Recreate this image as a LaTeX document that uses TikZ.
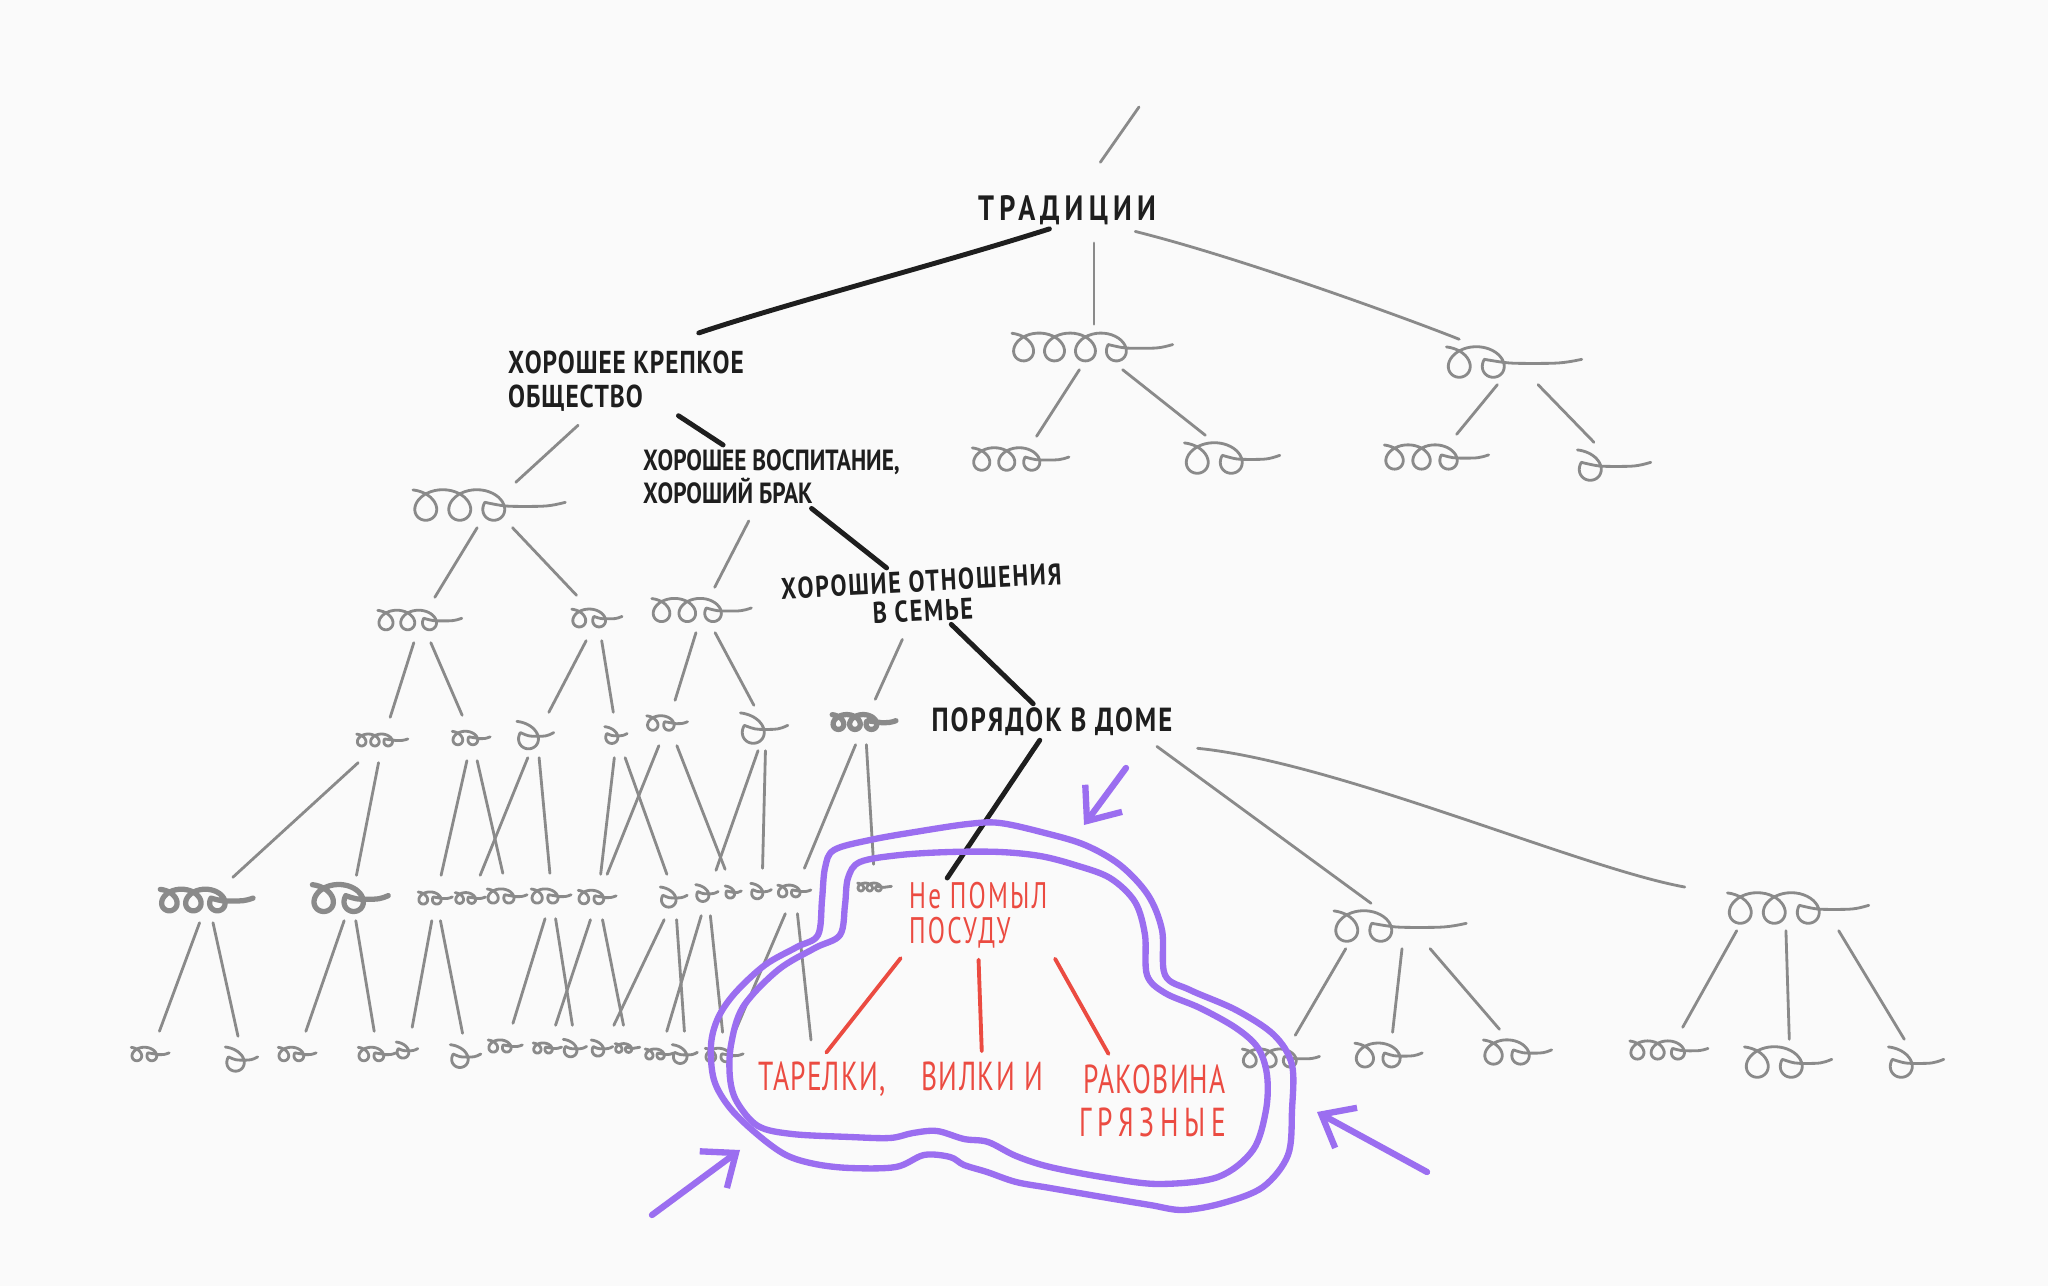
\documentclass[tikz,border=0pt]{standalone}
\usepackage{fontspec}
\setmainfont{PT Sans}[FakeStretch=0.8]
\usetikzlibrary{arrows.meta}
\lineskiplimit=-10pt

\definecolor{paper}{RGB}{250,250,250}
\definecolor{twiggray}{RGB}{138,138,138}
\definecolor{inkblack}{RGB}{30,30,30}
\definecolor{inkred}{RGB}{235,75,65}
\definecolor{inkpurple}{RGB}{155,110,240}

% a loopy scribble standing for a node: \squig[style]{name}{x}{y}{loops}{width}
\newcommand\squig[6][]{%
  \pgfmathsetmacro\sqa{min(0.75*#6/#5,34)}%
  \pgfmathsetmacro\sqx{#3-#6/2+0.39*\sqa}%
  \pgfmathsetmacro\sqe{(#5-1)*360+100}%
  \pgfmathtruncatemacro\sqs{#5*30+10}%
  \pgfmathsetmacro\sqh{max(0.5*(#6-\sqa*(#5-0.75)),2)}%
  \pgfmathsetmacro\sqv{0.12*\sqa}%
  \pgfmathsetmacro\sqw{#6*0.2845}%
  \node[sqbox, minimum width=\sqw pt] (#2) at (#3,#4) {};
  \draw[twig,#1] plot[smooth, domain=-170:\sqe, samples=\sqs, variable=\t]
    ({\sqx+\sqa*(\t/360)-0.55*\sqa*sin(\t)}, {#4+0.45*\sqa*cos(\t)})
    .. controls +(0.5*\sqh,\sqv) and +(-0.5*\sqh,0) .. ++(\sqh,\sqv)
    .. controls +(0.5*\sqh,0) and +(-0.4*\sqh,\sqv) .. ++(\sqh,-\sqv);
}

\tikzset{
  twig/.style={twiggray, line width=0.8pt, line cap=round, line join=round},
  fat/.style={line width=1.5pt},
  ink/.style={inkblack, line width=1.4pt, line cap=round, line join=round},
  redink/.style={inkred, line width=1.1pt, line cap=round},
  ring/.style={inkpurple, line width=1.8pt, line cap=round, line join=round},
  pointer/.style={ring, -{Straight Barb[length=8pt, width=13pt]}},
  sqbox/.style={inner sep=0pt, minimum height=0.44cm},
  lbl/.style={text=inkblack, inner sep=1pt},
  redlbl/.style={text=inkred, inner sep=1pt},
}

\begin{document}
\begin{tikzpicture}[x=0.01cm, y=-0.01cm]
\fill[paper] (0,0) rectangle (2048,1286);
\useasboundingbox (0,0) rectangle (2048,1286);

% labels
\node[lbl, font=\fontsize{10}{11}\selectfont\bfseries\addfontfeature{LetterSpace=15}] (trad) at (1067,210) {ТРАДИЦИИ};
\node[lbl, align=left, anchor=north west, font=\fontsize{9}{9.6}\selectfont\bfseries\addfontfeature{LetterSpace=3}] (obsh) at (504,347) {ХОРОШЕЕ КРЕПКОЕ\\ОБЩЕСТВО};
\node[lbl, align=left, anchor=north west, font=\fontsize{8.3}{9.6}\selectfont\bfseries] (vosp) at (639,445) {ХОРОШЕЕ ВОСПИТАНИЕ,\\ХОРОШИЙ БРАК};
\node[lbl, align=center, rotate=3, font=\fontsize{8.5}{8.4}\selectfont\bfseries\addfontfeature{LetterSpace=6}] (otn) at (922,596) {ХОРОШИЕ ОТНОШЕНИЯ\\В СЕМЬЕ};
\node[lbl, font=\fontsize{9.5}{10}\selectfont\bfseries\addfontfeature{LetterSpace=6}] (dom) at (1052,722) {ПОРЯДОК В ДОМЕ};
\node[redlbl, align=left, anchor=north west, font=\fontsize{10.5}{10}\selectfont\addfontfeature{FakeStretch=0.68,LetterSpace=6}] (dishes) at (905,878) {Не ПОМЫЛ\\ПОСУДУ};
\node[redlbl, anchor=base, font=\fontsize{11.5}{12}\selectfont\addfontfeature{FakeStretch=0.68,LetterSpace=3}] (plates) at (822,1091) {ТАРЕЛКИ,};
\node[redlbl, anchor=base, font=\fontsize{11.5}{12}\selectfont\addfontfeature{FakeStretch=0.68,LetterSpace=4}] (forks) at (982,1091) {ВИЛКИ И};
\node[redlbl, align=right, anchor=north east, font=\fontsize{11.5}{12.4}\selectfont\addfontfeature{FakeStretch=0.68,LetterSpace=3}] (sink) at (1230,1060) {РАКОВИНА\\{\addfontfeature{LetterSpace=14}ГРЯЗНЫЕ}};

% scribbles, level by level
\squig{q1b}{1094}{347}{4}{165}
\squig{q1c}{1516}{362}{2}{140}
\squig{q2b}{1022}{459}{3}{100}
\squig{q2c}{1234}{458}{2}{100}
\squig{q2d}{1438}{457}{3}{108}
\squig{q2e}{1616}{465}{1}{78}
\squig{q2a}{491}{505}{3}{157}
\squig{q3a}{421}{620}{3}{87}
\squig{q3b}{598}{618}{2}{53}
\squig{q3c}{703}{610}{3}{103}
\squig{q4a}{383}{740}{3}{53}
\squig{q4b}{472}{738}{2}{40}
\squig{q4c}{537}{735}{1}{41}
\squig{q4d}{617}{735}{1}{25}
\squig{q4e}{668}{723}{2}{43}
\squig{q4f}{766}{728}{1}{52}
\squig[fat]{q4g}{865}{722}{3}{66}
\squig[fat]{q5a}{208}{900}{3}{96}
\squig[fat]{q5b}{352}{898}{2}{80}
\squig{q5c}{436}{898}{2}{36}
\squig{q5d}{471}{898}{2}{32}
\squig{q5e}{508}{896}{2}{42}
\squig{q5f}{552}{896}{2}{42}
\squig{q5g}{598}{897}{2}{40}
\squig{q5h}{675}{897}{1}{30}
\squig{q5i}{708}{893}{1}{25}
\squig{q5j}{734}{892}{1}{18}
\squig{q5k}{762}{891}{1}{23}
\squig{q5l}{795}{891}{2}{35}
\squig{q5m}{875}{887}{3}{35}
\squig{q6a}{151}{1054}{2}{40}
\squig{q6b}{243}{1059}{1}{36}
\squig{q6c}{298}{1054}{2}{40}
\squig{q6d}{378}{1054}{2}{40}
\squig{q6e}{408}{1050}{1}{24}
\squig{q6f}{467}{1056}{1}{34}
\squig{q6g}{506}{1046}{2}{36}
\squig{q6h}{548}{1048}{2}{30}
\squig{q6i}{576}{1048}{1}{26}
\squig{q6j}{603}{1048}{1}{24}
\squig{q6k}{628}{1048}{2}{26}
\squig{q6l}{660}{1054}{2}{30}
\squig{q6m}{686}{1054}{1}{28}
\squig{q6n}{725}{1055}{2}{40}
\coordinate (loose) at (811,1040);
\squig{r1}{1402}{926}{2}{137}
\squig{r2}{1800}{908}{3}{146}
\squig{r1a}{1282}{1058}{3}{80}
\squig{r1b}{1390}{1055}{2}{71}
\squig{r1c}{1519}{1052}{2}{72}
\squig{r2a}{1670}{1050}{3}{81}
\squig{r2b}{1790}{1062}{2}{92}
\squig{r2c}{1918}{1062}{1}{60}

% grey branches
\coordinate (stub) at (1139,107);
\draw[twig, shorten <=10pt] (trad) -- (stub);
\draw[twig, shorten <=4pt] (q1b |- trad.south) -- (q1b);
\draw[twig, shorten <=3pt] ([xshift=-10pt]trad.south east) .. controls +(120,30) and +(-100,-40) .. (q1c);
\draw[twig] (q1b) -- (q2b) (q1b) -- (q2c);
\draw[twig] (q1c) -- (q2d) (q1c) -- (q2e);
\draw[twig, shorten <=4pt] (obsh) -- (q2a);
\draw[twig, shorten <=4pt] (vosp) -- (q3c);
\draw[twig, shorten <=4pt] (otn) -- (q4g);
\draw[twig] (q2a) -- (q3a) (q2a) -- (q3b);
\draw[twig] (q3a) -- (q4a) (q3a) -- (q4b);
\draw[twig] (q3b) -- (q4c) (q3b) -- (q4d);
\draw[twig] (q3c) -- (q4e) (q3c) -- (q4f);
\draw[twig] (q4a) -- (q5a) (q4a) -- (q5b);
\draw[twig] (q4b) -- (q5c) (q4b) -- (q5e);
\draw[twig] (q4c) -- (q5d) (q4c) -- (q5f);
\draw[twig] (q4d) -- (q5g) (q4d) -- (q5h);
\draw[twig] (q4e) -- (q5g) (q4e) -- (q5j);
\draw[twig] (q4f) -- (q5i) (q4f) -- (q5k);
\draw[twig] (q4g) -- (q5l) (q4g) -- (q5m);
\draw[twig] (q5a) -- (q6a) (q5a) -- (q6b);
\draw[twig] (q5b) -- (q6c) (q5b) -- (q6d);
\draw[twig] (q5c) -- (q6e) (q5c) -- (q6f);
\draw[twig] (q5f) -- (q6g) (q5f) -- (q6i);
\draw[twig] (q5g) -- (q6h) (q5g) -- (q6k);
\draw[twig] (q5h) -- (q6j) (q5h) -- (q6m);
\draw[twig] (q5i) -- (q6l) (q5i) -- (q6n);
\draw[twig] (q5l) -- (q6n) (q5l) -- (loose);
\draw[twig, shorten <=3pt] ([xshift=-8pt]dom.south east) -- (r1);
\draw[twig, shorten <=3pt, shorten >=12pt] ([xshift=3pt,yshift=-2pt]dom.south east) .. controls +(150,15) and +(-220,-40) .. (r2);
\draw[twig] ([xshift=-16pt]r1.south) -- (r1a) (r1.south) -- (r1b) ([xshift=8pt]r1.south) -- (r1c);
\draw[twig] ([xshift=-18pt]r2.south) -- (r2a) ([xshift=-4pt]r2.south) -- (r2b) ([xshift=11pt]r2.south) -- (r2c);

% black path of reasons
\draw[ink] ([xshift=-5pt]trad.south) .. controls +(-110,35) and +(90,-30) .. ([xshift=-14pt,yshift=4pt]obsh.north east);
\draw[ink] (obsh) -- (vosp);
\draw[ink] (vosp) -- (otn);
\draw[ink] (otn) -- (dom);
\draw[ink] (dom) -- ([xshift=12pt]dishes.north west);

% red details
\draw[redink, shorten <=2pt, shorten >=2pt] (dishes.south west) -- (plates.north);
\draw[redink, shorten <=2pt, shorten >=2pt] (dishes.south) -- (forks.north);
\draw[redink, shorten <=2pt, shorten >=2pt] (dishes.south east) -- (sink.135);

% purple double loop and arrows
\draw[ring] plot[smooth cycle, tension=0.55] coordinates {(834,850) (870,840) (915,832) (968,824) (1000,823) (1045,833) (1085,845) (1120,865) (1148,895) (1162,930) (1165,975) (1190,990) (1236,1010) (1274,1035) (1292,1065) (1292,1110) (1288,1155) (1263,1187) (1223,1203) (1183,1210) (1150,1205) (1108,1198) (1050,1188) (1016,1182) (987,1172) (964,1165) (950,1157) (924,1155) (896,1167) (850,1168) (815,1164) (786,1155) (758,1135) (730,1108) (714,1080) (711,1045) (718,1018) (735,993) (765,965) (797,947) (818,935) (822,900) (825,868)};
\draw[ring] plot[smooth cycle, tension=0.55] coordinates {(860,862) (900,855) (950,852) (1000,852) (1040,856) (1075,865) (1110,878) (1135,902) (1145,935) (1147,975) (1165,993) (1200,1008) (1236,1028) (1258,1048) (1267,1075) (1266,1110) (1253,1150) (1218,1177) (1160,1184) (1108,1178) (1050,1167) (1016,1156) (988,1142) (964,1139) (937,1131) (913,1133) (890,1138) (850,1137) (792,1134) (758,1126) (737,1102) (730,1078) (731,1045) (743,1007) (778,970) (815,948) (840,935) (845,905) (848,878)};
\coordinate (arrT0) at (1126,768);
\coordinate (arrT1) at (1084,825);
\coordinate (arrL0) at (652,1215);
\coordinate (arrL1) at (740,1150);
\coordinate (arrR0) at (1427,1172);
\coordinate (arrR1) at (1317,1112);
\draw[pointer] (arrT0) -- (arrT1);
\draw[pointer] (arrL0) -- (arrL1);
\draw[pointer] (arrR0) -- (arrR1);
\end{tikzpicture}
\end{document}
